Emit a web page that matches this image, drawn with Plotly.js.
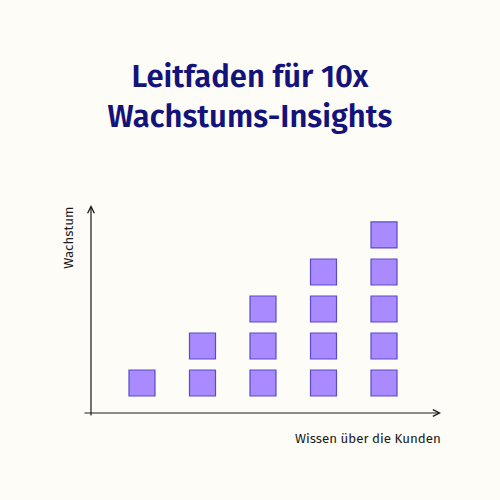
<!DOCTYPE html>
<html>
<head>
<meta charset="utf-8">
<script src="https://cdn.plot.ly/plotly-3.0.1.min.js"></script>
<style>html,body{margin:0;padding:0;background:#FDFCF6;}#chart{width:500px;height:500px;}</style>
</head>
<body>
<div id="chart"></div>
<script>
// Data
const stages = [1, 2, 3, 4, 5];
const blockCounts = [1, 2, 3, 4, 5];
const titleText = "Leitfaden für 10x<br>Wachstums-Insights";
const xLabel = "Wissen über die Kunden";
const yLabel = "Wachstum";

// Expand counts into stacked block positions
const xs = [], ys = [];
stages.forEach((s, i) => {
  for (let k = 1; k <= blockCounts[i]; k++) { xs.push(s); ys.push(k); }
});

const W = 500, H = 500;
const m = {l: 83, r: 59, t: 205, b: 83};
const xRange = [0.025, 5.942];
const yRange = [0.081, 5.81];
const yAxisX = 0.157;   // vertical axis position (data units)
const xAxisY = 0.189;   // horizontal axis position (data units)

const trace = {
  type: 'scatter', mode: 'markers', x: xs, y: ys,
  marker: {symbol: 'square', size: 26, color: '#A98BFF', line: {color: '#5A4BCB', width: 1.2}},
  hoverinfo: 'skip'
};

const font = "'Fira Sans', 'Noto Sans', 'Open Sans', sans-serif";

const layout = {
  width: W, height: H,
  paper_bgcolor: '#FDFCF6', plot_bgcolor: 'rgba(0,0,0,0)',
  margin: m,
  showlegend: false,
  title: {text: titleText, x: 0.5, xanchor: 'center', y: 0.827, yanchor: 'middle',
          font: {family: font, size: 31, color: '#14137A', weight: 600, lineposition: 'none'}},
  xaxis: {range: xRange, showgrid: false, zeroline: false, showticklabels: false, ticks: '', showline: false, fixedrange: true},
  yaxis: {range: yRange, showgrid: false, zeroline: false, showticklabels: false, ticks: '', showline: false, fixedrange: true},
  annotations: [
    {x: xRange[1], y: xAxisY, ax: xRange[0], ay: xAxisY, xref: 'x', yref: 'y', axref: 'x', ayref: 'y',
     showarrow: true, arrowhead: 5, arrowsize: 1.1, arrowwidth: 1.2, arrowcolor: '#1a1a1a', text: ''},
    {x: yAxisX, y: yRange[1], ax: yAxisX, ay: yRange[0], xref: 'x', yref: 'y', axref: 'x', ayref: 'y',
     showarrow: true, arrowhead: 5, arrowsize: 1.1, arrowwidth: 1.2, arrowcolor: '#1a1a1a', text: ''},
    {x: 1.005, xref: 'paper', xanchor: 'right', y: -0.058, yref: 'paper', yanchor: 'top', showarrow: false,
     text: xLabel, font: {family: font, size: 13.3, color: '#1a1a1a'}},
    {x: -0.012, xref: 'paper', xanchor: 'right', y: 1, yref: 'paper', yanchor: 'top', showarrow: false,
     text: yLabel, textangle: -90, font: {family: font, size: 13.3, color: '#1a1a1a'}}
  ]
};

Plotly.newPlot('chart', [trace], layout, {displayModeBar: false, staticPlot: true});
</script>
</body>
</html>
